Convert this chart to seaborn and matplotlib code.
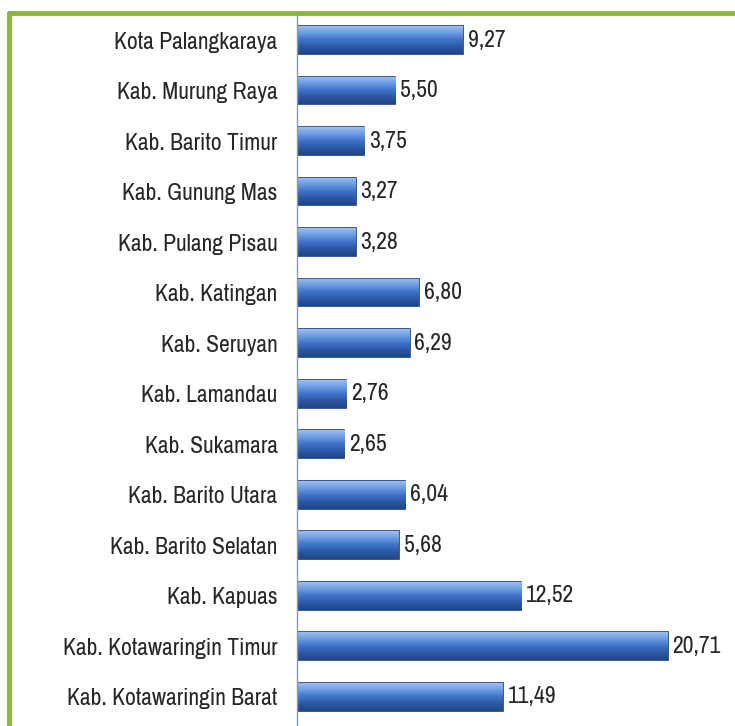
import numpy as np
import pandas as pd
import matplotlib.pyplot as plt
import seaborn as sns
from matplotlib.lines import Line2D

regions = ['Kota Palangkaraya', 'Kab. Murung Raya', 'Kab. Barito Timur', 'Kab. Gunung Mas',
           'Kab. Pulang Pisau', 'Kab. Katingan', 'Kab. Seruyan', 'Kab. Lamandau',
           'Kab. Sukamara', 'Kab. Barito Utara', 'Kab. Barito Selatan', 'Kab. Kapuas',
           'Kab. Kotawaringin Timur', 'Kab. Kotawaringin Barat']
values = [9.27, 5.50, 3.75, 3.27, 3.28, 6.80, 6.29, 2.76, 2.65, 6.04, 5.68, 12.52, 20.71, 11.49]

df = pd.DataFrame({'region': regions, 'value': values})

sns.set_theme(style='white')
plt.rcParams['font.family'] = ['Archivo Narrow', 'DejaVu Sans']

fig = plt.figure(figsize=(7.35, 7.26), dpi=100)
ax = fig.add_axes([297 / 735, 0, 1 - 297 / 735, 1 - 14 / 726])

sns.barplot(data=df, x='value', y='region', ax=ax, color='#3b6fc6', width=0.55,
            edgecolor='#1d3c78', linewidth=1.2, saturation=1)

# gradient shading on each bar
grad = np.linspace(0, 1, 100).reshape(-1, 1)
cmap = plt.matplotlib.colors.LinearSegmentedColormap.from_list(
    'bar', ['#9dbff2', '#6b9be2', '#3f72c8', '#2c58a3', '#1f4586'])
for p in ax.patches:
    x0, y0 = p.get_x(), p.get_y()
    w, h = p.get_width(), p.get_height()
    im = ax.imshow(grad, extent=[x0, x0 + w, y0 + h, y0], aspect='auto',
                   cmap=cmap, zorder=p.get_zorder() + 0.1, interpolation='bicubic')
    im.set_clip_path(p)

for c in ax.containers:
    ax.bar_label(c, labels=[f'{v:.2f}'.replace('.', ',') for v in values],
                 padding=3.5, fontsize=17, color='#262626')

ax.set_xlim(0, 24.47)
ax.set_ylim(13.58, -0.515)
ax.set_xlabel('')
ax.set_ylabel('')
ax.set_xticks([])
ax.tick_params(axis='y', length=0, pad=14, labelsize=17, labelcolor='#262626')
for s in ['top', 'right', 'bottom']:
    ax.spines[s].set_visible(False)
ax.spines['left'].set_color('#8a9aa8')
ax.spines['left'].set_linewidth(1)

# green frame
fig.add_artist(Line2D([9 / 735, 1], [1 - 13 / 726, 1 - 13 / 726], color='#8db53c', lw=3.5))
fig.add_artist(Line2D([9 / 735, 9 / 735], [0, 1 - 13 / 726], color='#8db53c', lw=3.5))

fig.savefig('out.png', dpi=100)
